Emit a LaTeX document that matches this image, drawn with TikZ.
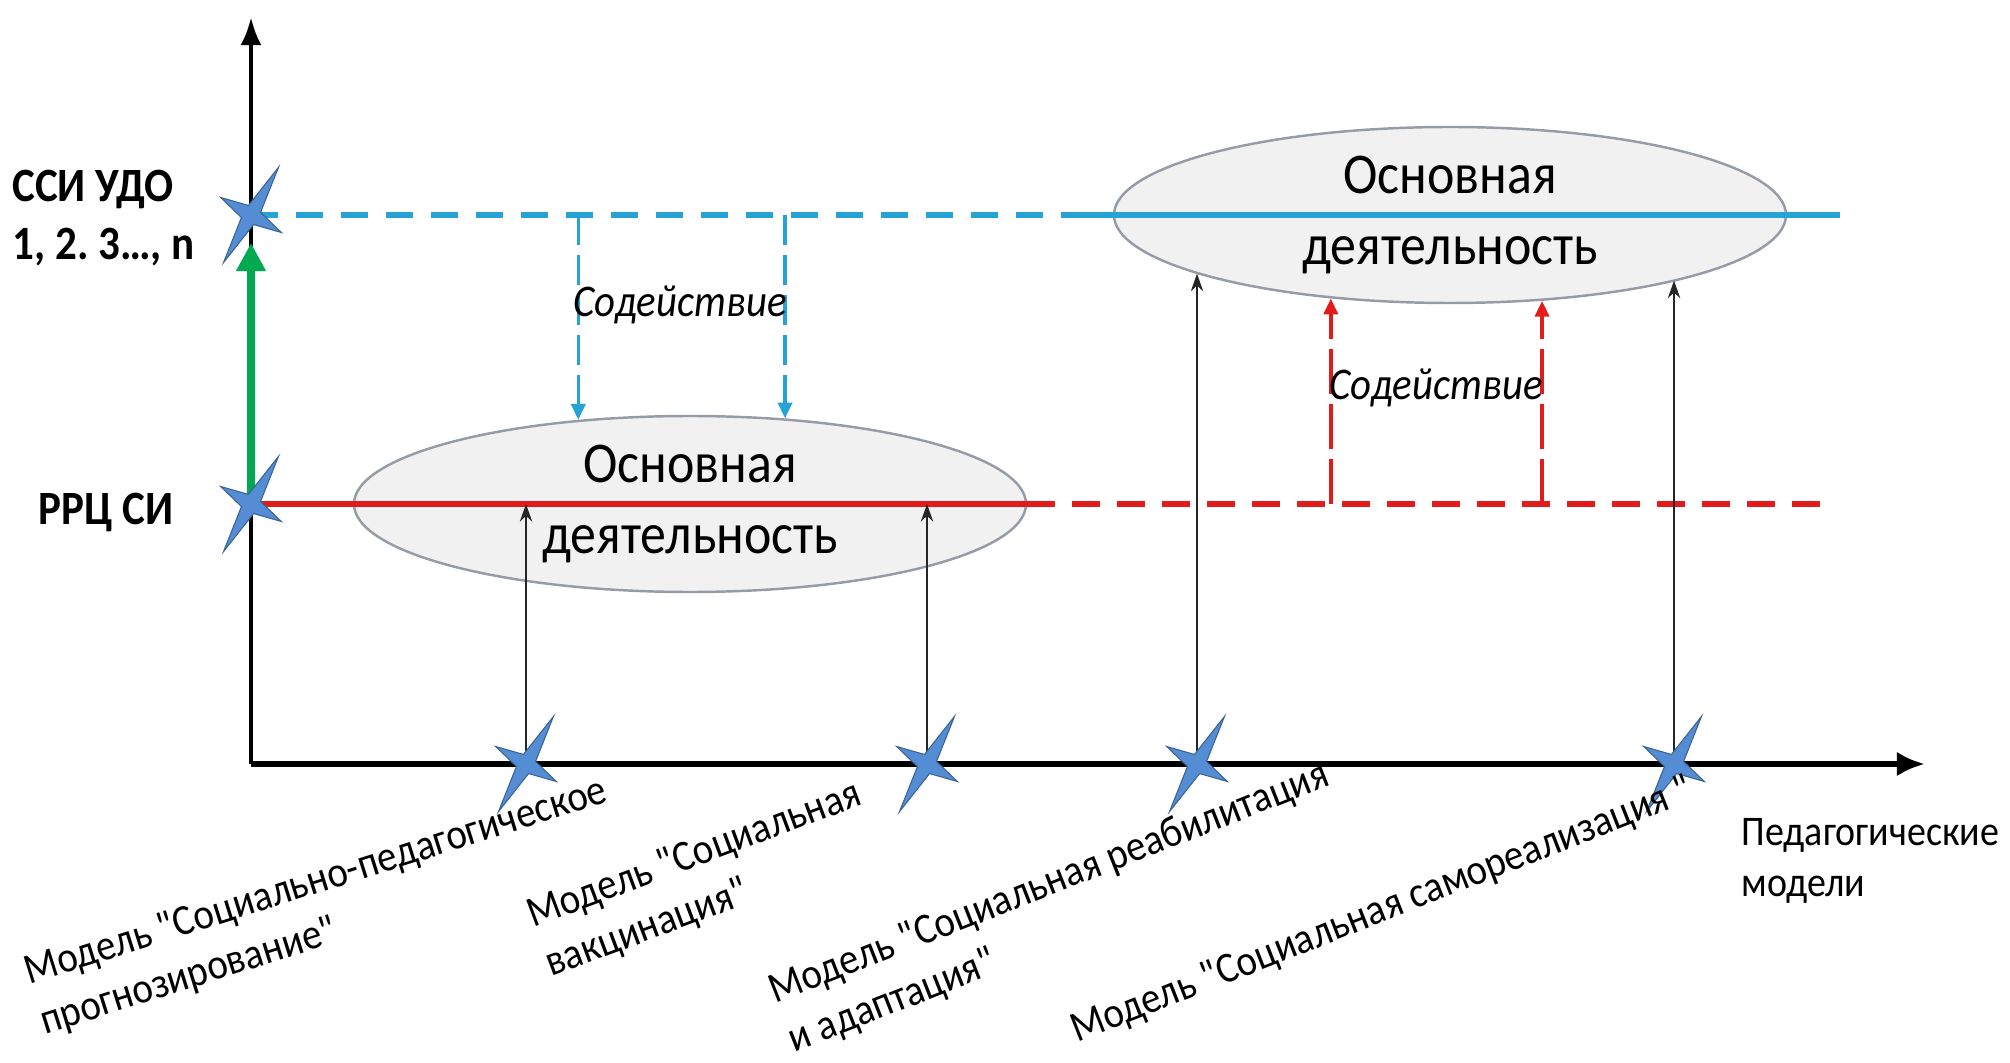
\documentclass[tikz,border=0pt]{standalone}
\usepackage{fontspec}
\setmainfont[FakeStretch=0.9]{Carlito}
\newfontfamily\labelfont[FakeStretch=0.9]{Carlito}
\usetikzlibrary{arrows.meta,shapes.geometric}
\frenchspacing

\definecolor{starblue}{RGB}{84,141,212}
\definecolor{ssiblue}{RGB}{38,162,214}
\definecolor{rrcred}{RGB}{226,28,28}
\definecolor{upgreen}{RGB}{0,170,80}
\definecolor{ovalfill}{RGB}{241,241,241}
\definecolor{ovalline}{RGB}{150,156,166}

\tikzset{
  spark/.pic={
    \filldraw[fill=starblue, draw=starblue!70!black, line width=0.3pt, rotate=60]
      (0.55,0) -- (0.07,0.07) -- (0,0.35) -- (-0.07,0.07) -- (-0.55,0)
      -- (-0.07,-0.07) -- (0,-0.35) -- (0.07,-0.07) -- cycle;
  },
  oval/.style={ellipse, draw=ovalline, fill=ovalfill, line width=0.7pt,
    minimum width=6.72cm, minimum height=1.76cm, inner sep=0pt},
  ovaltext/.style={align=center, inner sep=0pt, font=\fontsize{16.4}{20}\selectfont},
  levellabel/.style={align=left, inner sep=0pt, font=\bfseries\fontsize{13.6}{16.5}\selectfont},
  modellabel/.style={align=left, inner sep=0pt, anchor=north west,
    font=\labelfont\fontsize{12.3}{14.9}\selectfont},
  helplabel/.style={inner sep=0pt, font=\itshape\fontsize{12.9}{15}\selectfont},
  helpdown/.style={ssiblue, line width=1pt, dash pattern=on 0.3cm off 0.1cm,
    -{Triangle[length=4.5pt,width=4pt]}},
  helpup/.style={rrcred, line width=1pt, dash pattern=on 0.45cm off 0.1cm,
    -{Triangle[length=4.5pt,width=4pt]}},
  modelarrow/.style={black!85, line width=0.6pt, -{Stealth[length=5pt,width=3.5pt]}},
}

\begin{document}
\begin{tikzpicture}
  \useasboundingbox (0,0) rectangle (20.10,10.62);
  % Punkte
  \coordinate (o) at (2.51,2.98);
  \coordinate (ytop) at (2.51,10.45);
  \coordinate (xend) at (19.25,2.98);
  \coordinate (ssi) at (2.51,8.47);
  \coordinate (rrc) at (2.51,5.58);
  \coordinate (ssimid) at (10.64,8.47);
  \coordinate (ssiend) at (18.40,8.47);
  \coordinate (rrcend) at (18.27,5.58);
  \coordinate (s1) at (5.26,2.98);
  \coordinate (s2) at (9.27,2.98);
  \coordinate (s3) at (11.97,2.98);
  \coordinate (s4) at (16.74,2.98);
  % Ovale
  \node[oval] (act1) at (6.90,5.58) {};
  \node[oval] (act2) at (14.50,8.47) {};
  % Achsen
  \draw[line width=1.3pt, -{Latex[length=8pt,width=6pt]}] (o) -- (ytop);
  \draw[line width=1.8pt, -{Latex[length=8pt,width=7pt]}] (o) -- (xend);
  % Ebenen
  \draw[ssiblue, line width=1.5pt, dash pattern=on 0.27cm off 0.18cm] (ssi) -- (ssimid);
  \draw[ssiblue, line width=1.5pt] (ssimid) -- (ssiend);
  \draw[rrcred, line width=1.7pt] (rrc) -- (act1.east);
  \draw[rrcred, line width=1.7pt, dash pattern=on 0.28cm off 0.17cm] (act1.east) -- (rrcend);
  \draw[upgreen, line width=2.4pt, -{Triangle[length=8pt,width=8pt]}, shorten >=0.28cm] (rrc) -- (ssi);
  % Содействие
  \draw[helpdown] (act1.143 |- ssi) -- (act1.143);
  \draw[helpdown] (act1.42 |- ssi) -- (act1.42);
  \draw[helpup] (act2.215 |- rrc) -- (act2.215);
  \draw[helpup] (act2.317 |- rrc) -- (act2.317);
  % Modelle
  \draw[modelarrow] (s1) -- (s1 |- rrc);
  \draw[modelarrow] (s2) -- (s2 |- rrc);
  \draw[modelarrow] (s3) -- (s3 |- act2.193);
  \draw[modelarrow] (s4) -- (s4 |- act2.344);
  % Sterne
  \foreach \p in {ssi,rrc,s1,s2,s3,s4}
    \pic at (\p) {spark};
  % Beschriftung
  \node[ovaltext] (act1txt) at (act1) {Основная\\деятельность};
  \node[ovaltext] (act2txt) at (act2) {Основная\\деятельность};
  \node[helplabel] (help1) at (6.80,7.57) {Содействие};
  \node[helplabel] (help2) at (14.36,6.74) {Содействие};
  \node[levellabel, anchor=west] (ssilab) at (0.12,8.44) {ССИ УДО\\1, 2. 3…, n};
  \node[levellabel] (rrclab) at (1.06,5.50) {РРЦ СИ};
  \node[align=left, inner sep=0pt, anchor=west, font=\fontsize{12}{14.5}\selectfont]
    (xlab) at (17.41,2.01) {Педагогические\\модели};
  \node[modellabel, rotate=17.5] (m1) at (0.20,1.06) {Модель "Социально-педагогическое\\прогнозирование"};
  \node[modellabel, rotate=20.5] (m2) at (5.22,1.62) {Модель "Социальная\\вакцинация"};
  \node[modellabel, rotate=21.5] (m3) at (7.64,0.86) {Модель "Социальная реабилитация\\и адаптация"};
  \node[modellabel, rotate=21.5] (m4) at (10.66,0.47) {Модель "Социальная самореализация "};
\end{tikzpicture}
\end{document}
